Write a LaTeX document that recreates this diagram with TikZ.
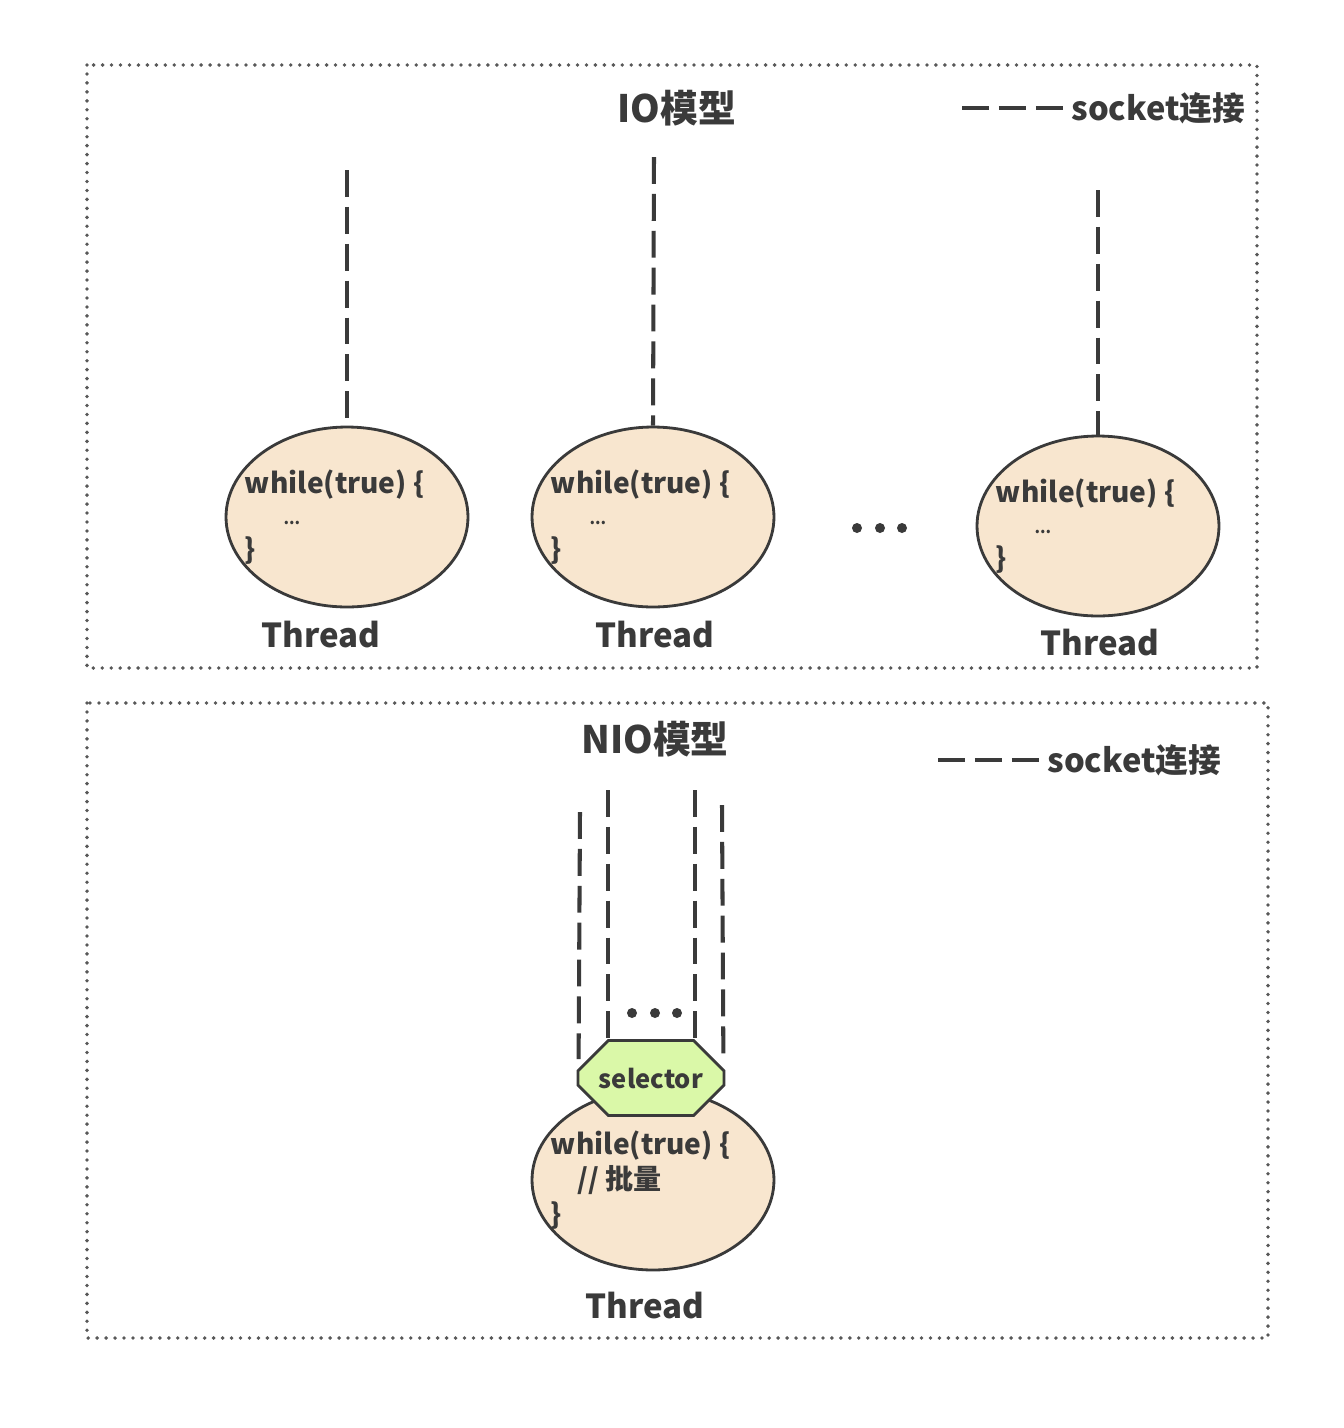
\documentclass[tikz,border=0pt]{standalone}
\usepackage{fontspec}
\setmainfont{Noto Sans CJK SC}
\usetikzlibrary{shapes.geometric,shapes.misc}
\definecolor{ink}{HTML}{3A3A3A}
\definecolor{peach}{HTML}{F8E6CF}
\definecolor{limeg}{HTML}{DAF8A8}

\begin{document}
\begin{tikzpicture}[x=0.02cm, y=-0.02cm,
  panel/.style={draw=ink!85, line width=2.2pt, line cap=round,
                dash pattern=on 0pt off 5.1pt},
  thread/.style={ellipse, draw=ink, line width=1.6pt, fill=peach,
                 minimum width=4.84cm, minimum height=3.6cm},
  sel/.style={chamfered rectangle, draw=ink, line width=1.6pt, fill=limeg,
              minimum width=2.92cm, minimum height=1.5cm,
              chamfered rectangle xsep=0.4cm, chamfered rectangle ysep=0.4cm,
              inner sep=0pt, font=\bfseries\fontsize{14.5}{16}\selectfont, text=ink},
  sock/.style={draw=ink, line width=2.3pt, dash pattern=on 15.3pt off 5.7pt},
  code/.style={anchor=west, align=left, inner sep=0pt, text=ink,
               font=\bfseries\fontsize{16}{19.8}\selectfont},
  lbl/.style={text=ink, font=\bfseries\fontsize{18.8}{22}\selectfont},
  ttl/.style={text=ink, font=\bfseries\fontsize{21.5}{25}\selectfont},
  lgd/.style={anchor=west, inner sep=0pt, text=ink,
              font=\bfseries\fontsize{18.6}{22}\selectfont},
  dot/.style={fill=ink}
]
  \useasboundingbox[fill=white] (0,0) rectangle (1344,1428);

  % IO model
  \draw[panel] (87,65) rectangle (1257,668);
  \node[ttl] (io) at (677,108) {IO模型};
  \coordinate (lgA) at (962,108);
  \node[lgd] (lgTxtA) at (1071,108) {socket连接};
  \draw[sock] (lgA) -- (lgTxtA.west);

  \node[thread] (t1) at (347,517) {};
  \node[thread] (t2) at (653,517) {};
  \node[thread] (t3) at (1098,526) {};

  \coordinate (s1) at (347,170);
  \coordinate (s2) at (654,157);
  \coordinate (s3) at (1098,190);
  \draw[sock] (s1) -- (t1.north);
  \draw[sock] (s2) -- (t2.north);
  \draw[sock] (s3) -- (t3.north);

  \foreach \t in {t1,t2,t3}
    \node[code] (c\t) at ([xshift=0.4cm]\t.west) {while(true) \{\\[-2pt]\hspace{22pt}{\small ...}\\ \}};

  \node[lbl] (n1) at (321,635) {Thread};
  \node[lbl] (n2) at (655,635) {Thread};
  \node[lbl] (n3) at (1100,643) {Thread};

  \foreach \x in {857,880,902}
    \fill[dot] (\x,528) circle[radius=5];

  % NIO model
  \draw[panel] (87,703) rectangle (1268,1338);
  \node[ttl] (nio) at (655,739) {NIO模型};
  \coordinate (lgB) at (938,760);
  \node[lgd] (lgTxtB) at (1047,760) {socket连接};
  \draw[sock] (lgB) -- (lgTxtB.west);

  \node[thread] (t4) at (653,1180) {};
  \node[sel] (sl) at (651,1078) {selector};

  \coordinate (a1) at (580,812);
  \coordinate (a2) at (608,790);
  \coordinate (a3) at (695,790);
  \coordinate (a4) at (722,805);
  \draw[sock] (a1) -- ([xshift=0.04cm,yshift=0.38cm]sl.west);
  \draw[sock] (a2) -- (a2 |- sl.north);
  \draw[sock] (a3) -- (a3 |- sl.north);
  \draw[sock] (a4) -- ([xshift=-0.04cm,yshift=0.38cm]sl.east);

  \foreach \x in {632,655,677}
    \fill[dot] (\x,1013) circle[radius=5];

  \node[code] (c4) at ([xshift=0.4cm]t4.west) {while(true) \{\\\hspace{15pt}// 批量\\ \}};
  \node[lbl] (n4) at (645,1306) {Thread};
\end{tikzpicture}
\end{document}
